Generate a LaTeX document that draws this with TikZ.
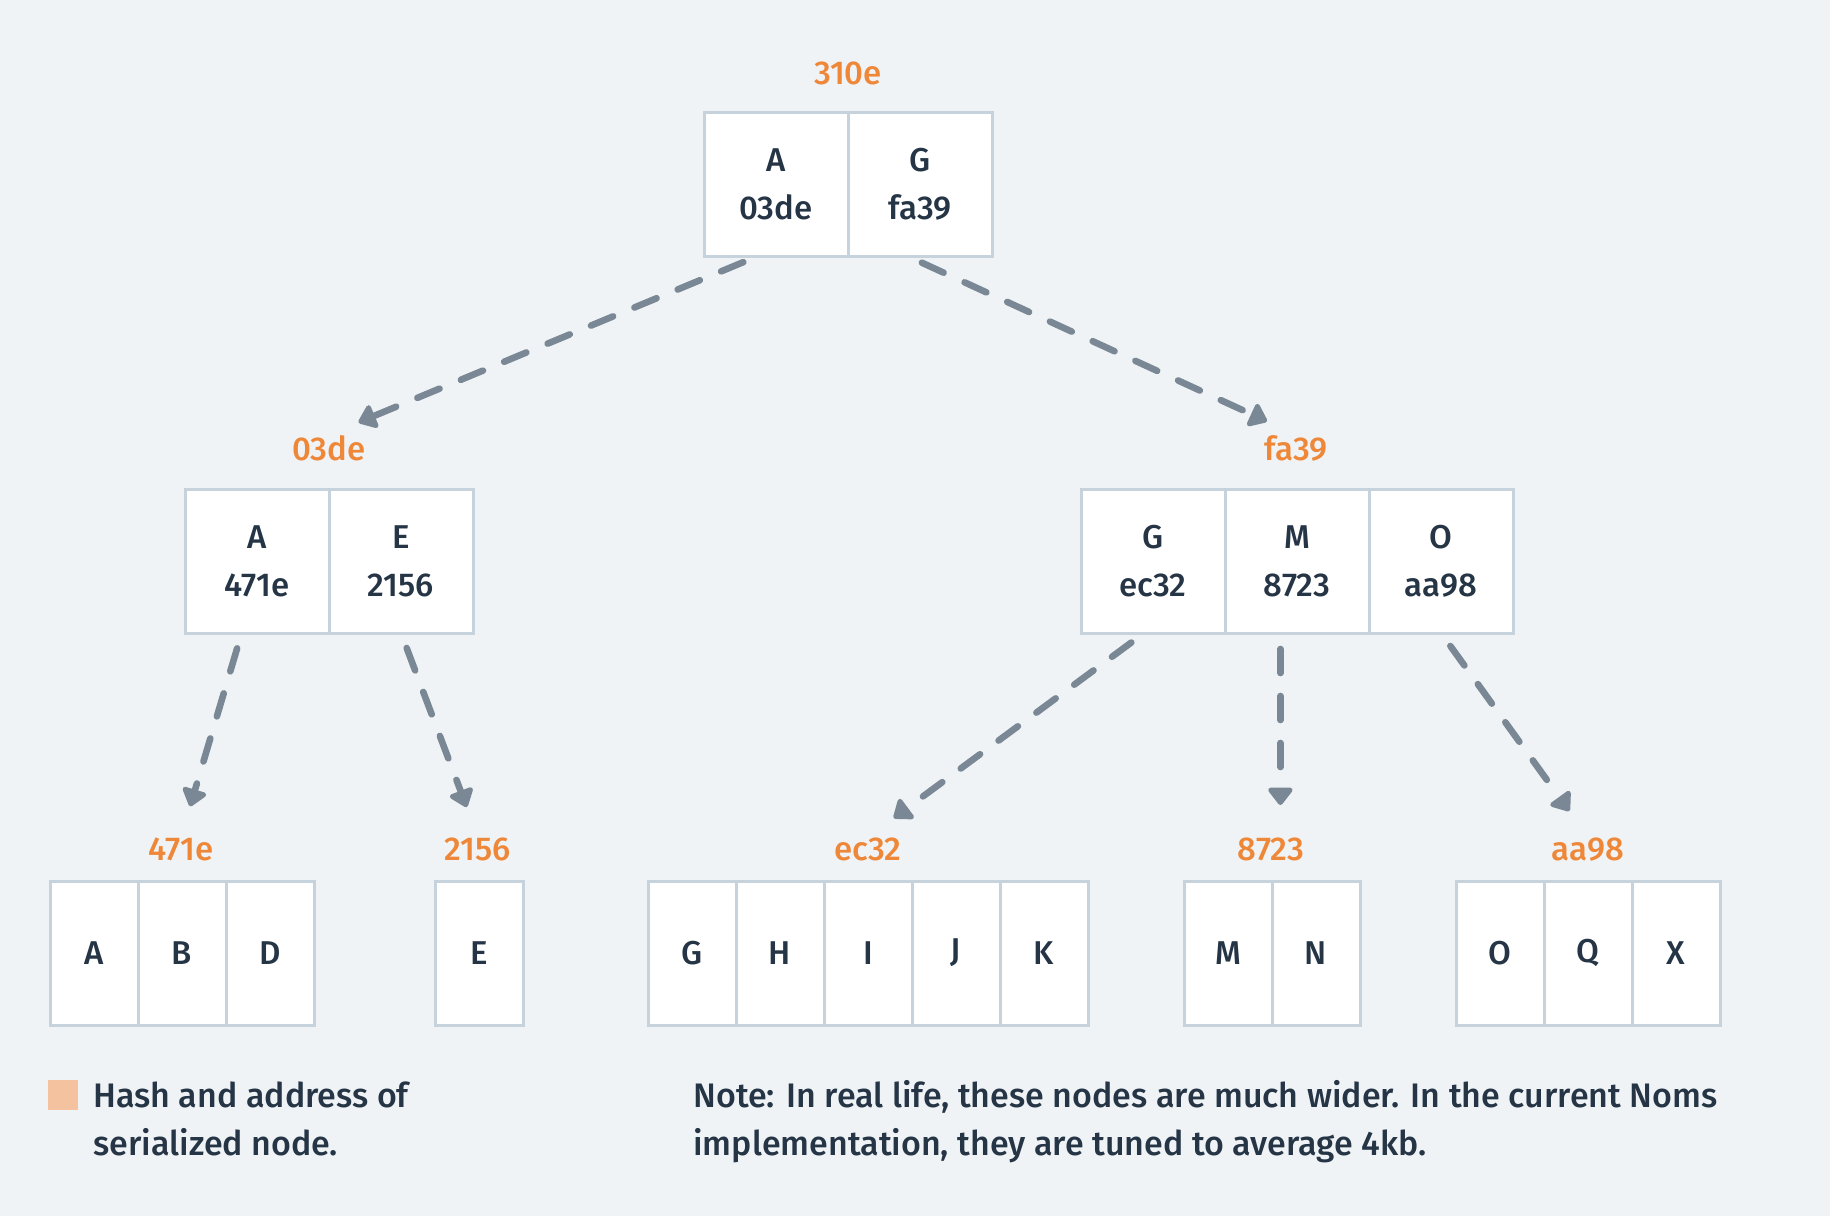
\documentclass[tikz,border=0pt]{standalone}
\usepackage{fontspec}
\setmainfont{Fira Sans}[UprightFont=* Medium]
\usetikzlibrary{positioning,arrows.meta}

\definecolor{paper}{HTML}{EFF3F6}
\definecolor{cellline}{HTML}{C6D3DD}
\definecolor{ink}{HTML}{253545}
\definecolor{hashorange}{HTML}{EE8738}
\definecolor{linkgray}{HTML}{7A8795}
\definecolor{legendpeach}{HTML}{F4C29F}

\tikzset{
  cell/.style={draw=cellline, fill=white, line width=1.5pt, minimum width=72pt, minimum height=72pt,
    inner sep=0pt, outer sep=0pt, align=center, text=ink, font=\fontsize{16.5}{24}\selectfont},
  leaf/.style={cell, minimum width=44pt},
  hash/.style={anchor=base, inner sep=0pt, text=hashorange, font=\fontsize{16.5}{20}\selectfont},
  link/.style={draw=linkgray, line width=3.3pt, dash pattern=on 12pt off 11.5pt, line cap=round,
    -{Triangle[length=9.5pt,width=14pt,round]}, shorten <=8pt, shorten >=16pt},
  notetext/.style={anchor=base west, inner sep=0pt, align=left, text=ink, font=\fontsize{17}{24}\selectfont},
}

\begin{document}
\begin{tikzpicture}[x=0.5pt,y=-0.5pt]

\fill[paper] (0,0) rectangle (1830,1216);
\useasboundingbox (0,0) rectangle (1830,1216);

% root
\node[hash] (h310e) at (848,84) {310e};
\node[cell,anchor=north west] (ra) at (704,112) {A\\03de};
\node[cell,right=0pt of ra] (rg) {G\\fa39};

% second level
\node[hash] (h03de) at (329,460) {03de};
\node[cell,anchor=north west] (la) at (185,489) {A\\471e};
\node[cell,right=0pt of la] (le) {E\\2156};

\node[hash] (hfa39) at (1296,460) {fa39};
\node[cell,anchor=north west] (fg) at (1081,489) {G\\ec32};
\node[cell,right=0pt of fg] (fm) {M\\8723};
\node[cell,right=0pt of fm] (fo) {O\\aa98};

% leaves
\node[hash] (h471e) at (181,860) {471e};
\node[leaf,anchor=north west] (ka) at (50,881) {A};
\node[leaf,right=0pt of ka] (kb) {B};
\node[leaf,right=0pt of kb] (kd) {D};

\node[hash] (h2156) at (478,860) {2156};
\node[leaf,anchor=north west] (ke) at (435,881) {E};

\node[hash] (hec32) at (868,860) {ec32};
\node[leaf,anchor=north west] (kg) at (648,881) {G};
\node[leaf,right=0pt of kg] (kh) {H};
\node[leaf,right=0pt of kh] (ki) {I};
\node[leaf,right=0pt of ki] (kj) {J};
\node[leaf,right=0pt of kj] (kk) {K};

\node[hash] (h8723) at (1271,860) {8723};
\node[leaf,anchor=north west] (km) at (1184,881) {M};
\node[leaf,right=0pt of km] (kn) {N};

\node[hash] (haa98) at (1588,860) {aa98};
\node[leaf,anchor=north west] (ko) at (1456,881) {O};
\node[leaf,right=0pt of ko] (kq) {Q};
\node[leaf,right=0pt of kq] (kx) {X};

% pointers
\draw[link] (ra.-104) -- (h03de.north);
\draw[link] (rg.-100) -- (hfa39.north);
\draw[link] (la.-102) -- (h471e.north);
\draw[link] (le.south) -- (h2156.north);
\draw[link] (fg.-97) -- (hec32.north);
\draw[link] (fm.-103) -- (fm.-103 |- h8723.north);
\draw[link] (fo.south) -- (haa98.north);

% legend and note
\node[fill=legendpeach, minimum size=15pt, inner sep=0pt, anchor=north west] (key) at (48,1080) {};
\node[notetext] (keytext) at (93,1155) {Hash and address of\\serialized node.};
\node[notetext] (note) at (693,1155) {Note: In real life, these nodes are much wider. In the current Noms\\implementation, they are tuned to average 4kb.};

\end{tikzpicture}
\end{document}
